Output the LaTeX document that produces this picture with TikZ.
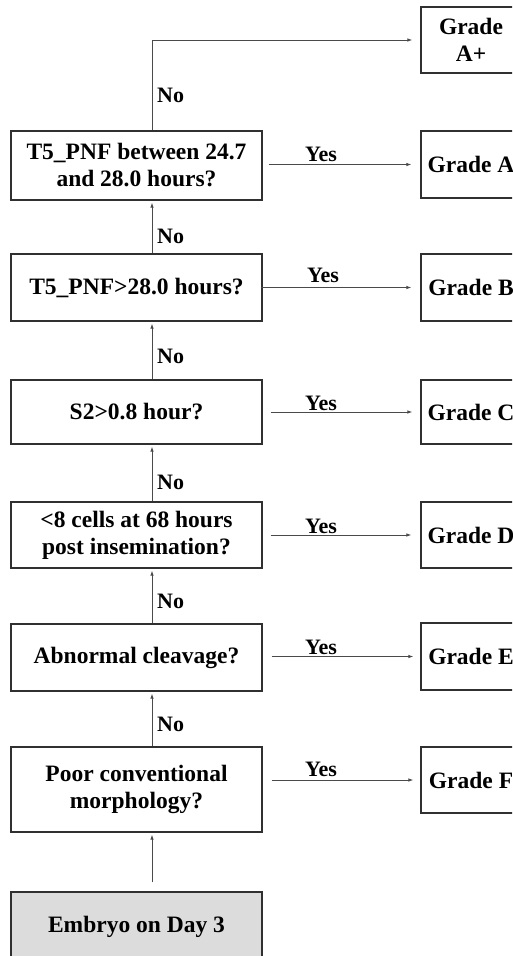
\documentclass[tikz,border=0pt]{standalone}
\usepackage{fontspec}
\setmainfont{Liberation Serif}
\usetikzlibrary{arrows.meta}
\definecolor{boxline}{HTML}{303030}
\definecolor{arrline}{HTML}{4A4A4A}
\definecolor{startfill}{HTML}{DCDCDC}
\begin{document}
\begin{tikzpicture}[x=1pt,y=-1pt,
  every node/.style={font=\bfseries\fontsize{23.5}{27}\selectfont},
  qbox/.style={draw=boxline,line width=1.3pt,minimum width=251pt,inner sep=0pt,align=center},
  gbox/.style={draw=boxline,line width=1.3pt,minimum width=100pt,inner sep=0pt,align=center},
  arr/.style={draw=arrline,line width=0.9pt,-{Latex[length=5pt,width=3.6pt]}},
  lab/.style={font=\bfseries\fontsize{22}{26}\selectfont,inner sep=0pt},
]
\useasboundingbox (0,0) rectangle (512,956);
\clip (0,0) rectangle (512,956);
\coordinate (vx) at (152,0);
% question boxes
\node[qbox,minimum height=69pt] (q1) at (136.5,165.5) {T5\_PNF between 24.7\\and 28.0 hours?};
\node[qbox,minimum height=67pt] (q2) at (136.5,287.5) {T5\_PNF>28.0 hours?};
\node[qbox,minimum height=64pt] (q3) at (136.5,412) {S2>0.8 hour?};
\node[qbox,minimum height=66pt] (q4) at (136.5,535) {<8 cells at 68 hours\\post insemination?};
\node[qbox,minimum height=67pt] (q5) at (136.5,657.5) {Abnormal cleavage?};
\node[qbox,minimum height=85pt] (q6) at (136.5,789.5) {Poor conventional\\morphology?};
\node[qbox,minimum height=70pt,fill=startfill] (emb) at (136.5,927) {Embryo on Day 3};
% grade boxes
\node[gbox,minimum height=66pt] (gap) at (471,40) {Grade\\A+};
\node[gbox,minimum height=67pt] (ga) at (471,164.5) {Grade A};
\node[gbox,minimum height=67pt] (gb) at (471,287.5) {Grade B};
\node[gbox,minimum height=64pt] (gc) at (471,412) {Grade C};
\node[gbox,minimum height=66pt] (gd) at (471,535) {Grade D};
\node[gbox,minimum height=67pt] (ge) at (471,656.5) {Grade E};
\node[gbox,minimum height=66pt] (gf) at (471,780) {Grade F};
% No connectors
\draw[arr,shorten <=9pt,shorten >=2pt] (emb.north -| vx) -- (q6.south -| vx);
\draw[arr,shorten >=2pt] (q6.north -| vx) -- (q5.south -| vx);
\draw[arr,shorten >=2pt] (q5.north -| vx) -- (q4.south -| vx);
\draw[arr,shorten >=2pt] (q4.north -| vx) -- (q3.south -| vx);
\draw[arr,shorten >=2pt] (q3.north -| vx) -- (q2.south -| vx);
\draw[arr,shorten >=2pt] (q2.north -| vx) -- (q1.south -| vx);
\draw[arr,shorten >=8pt] (q1.north -| vx) |- (gap.west);
% Yes connectors
\draw[arr,shorten <=6pt,shorten >=9pt] (q1.east |- ga.west) -- (ga.west);
\draw[arr,shorten <=-2pt,shorten >=9pt] (q2.east |- gb.west) -- (gb.west);
\draw[arr,shorten <=8pt,shorten >=8pt] (q3.east |- gc.west) -- (gc.west);
\draw[arr,shorten <=8pt,shorten >=9pt] (q4.east |- gd.west) -- (gd.west);
\draw[arr,shorten <=9pt,shorten >=7pt] (q5.east |- ge.west) -- (ge.west);
\draw[arr,shorten <=9pt,shorten >=7pt] (q6.east |- gf.west) -- (gf.west);
% labels
\node[lab,anchor=base] (y1) at (321,161) {Yes};
\node[lab,anchor=base] (y2) at (323,282) {Yes};
\node[lab,anchor=base] (y3) at (321,410) {Yes};
\node[lab,anchor=base] (y4) at (321,533) {Yes};
\node[lab,anchor=base] (y5) at (321,654) {Yes};
\node[lab,anchor=base] (y6) at (321,776) {Yes};
\node[lab,anchor=base west] (n1) at (157,102) {No};
\node[lab,anchor=base west] (n2) at (157,243) {No};
\node[lab,anchor=base west] (n3) at (157,363) {No};
\node[lab,anchor=base west] (n4) at (157,489) {No};
\node[lab,anchor=base west] (n5) at (157,608) {No};
\node[lab,anchor=base west] (n6) at (157,731) {No};
\end{tikzpicture}
\end{document}
